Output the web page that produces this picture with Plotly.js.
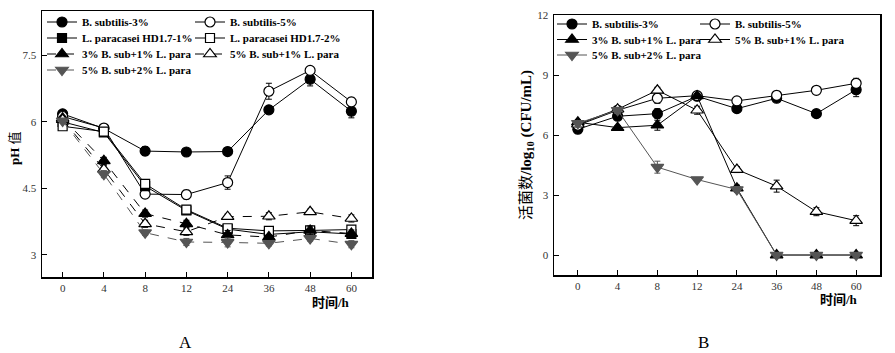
<!DOCTYPE html>
<html><head><meta charset="utf-8">
<script src="https://cdn.plot.ly/plotly-3.0.1.min.js"></script>
<style>html,body{margin:0;padding:0;background:#fff;}#chart{width:895px;height:353px;}</style>
</head><body><div id="chart"></div>
<script>
// ---- data ----
const times = ['0','4','8','12','24','36','48','60'];

// Chart A: pH
const phBs3 = [6.18, 5.85, 5.34, 5.32, 5.33, 6.27, 6.96, 6.24];
const phBs3Err = [0.05, 0.05, 0.1, 0.04, 0.08, 0.08, 0.15, 0.15];
const phBs5 = [6.12, 5.86, 4.37, 4.36, 4.63, 6.69, 7.16, 6.45];
const phBs5Err = [0.05, 0.05, 0.08, 0.1, 0.15, 0.18, 0.08, 0.1];
const phLp1 = [6.0, 5.76, 4.55, 4.0, 3.58, 3.46, 3.52, 3.47];
const phLp1Err = [0.04, 0.04, 0.06, 0.06, 0.1, 0.05, 0.06, 0.06];
const phLp2 = [5.9, 5.78, 4.6, 4.02, 3.6, 3.54, 3.55, 3.57];
const phLp2Err = [0.05, 0.04, 0.06, 0.08, 0.08, 0.05, 0.05, 0.06];
const phMix31 = [6.08, 5.12, 3.93, 3.70, 3.45, 3.40, 3.55, 3.48];
const phMix31Err = [0.05, 0.08, 0.08, 0.08, 0.1, 0.05, 0.1, 0.08];
const phMix51 = [6.05, 4.93, 3.70, 3.52, 3.86, 3.87, 3.97, 3.82];
const phMix51Err = [0.05, 0.08, 0.08, 0.08, 0.06, 0.08, 0.06, 0.08];
const phMix52 = [6.02, 4.82, 3.50, 3.29, 3.28, 3.26, 3.37, 3.24];
const phMix52Err = [0.05, 0.08, 0.06, 0.08, 0.1, 0.06, 0.06, 0.08];

// Chart B: viable count log10(CFU/mL)
const vcBs3 = [6.3, 6.95, 7.08, 7.95, 7.33, 7.85, 7.08, 8.28];
const vcBs3Err = [0.1, 0.12, 0.25, 0.12, 0.12, 0.15, 0.15, 0.35];
const vcBs5 = [6.5, 7.25, 7.85, 7.98, 7.72, 8.0, 8.25, 8.6];
const vcBs5Err = [0.1, 0.12, 0.25, 0.1, 0.12, 0.2, 0.15, 0.25];
const vcMix31 = [6.65, 6.38, 6.5, 7.97, 3.35, 0, 0, 0];
const vcMix31Err = [0.12, 0.1, 0.25, 0.12, 0.15, 0, 0, 0];
const vcMix51 = [6.55, 7.3, 8.25, 7.25, 4.28, 3.45, 2.17, 1.72];
const vcMix51Err = [0.1, 0.15, 0.15, 0.2, 0.15, 0.3, 0.2, 0.25];
const vcMix52 = [6.6, 7.25, 4.4, 3.78, 3.28, 0, 0, 0];
const vcMix52Err = [0.1, 0.15, 0.3, 0.1, 0.15, 0, 0, 0];

const nameBs3 = 'B. subtilis-3%';
const nameBs5 = 'B. subtilis-5%';
const nameLp1 = 'L. paracasei HD1.7-1%';
const nameLp2 = 'L. paracasei HD1.7-2%';
const nameMix31 = '3% B. sub+1% L. para';
const nameMix51 = '5% B. sub+1% L. para';
const nameMix52 = '5% B. sub+2% L. para';

// ---- styling helpers ----
const BLACK = '#000', GRAY = '#555';
function tr(y, err, name, sym, fill, lineColor, dash, xa, ya, leg) {
  return {
    type: 'scatter', mode: 'lines+markers', x: times, y: y, name: name,
    xaxis: xa, yaxis: ya, legend: leg,
    line: {color: lineColor, width: 1, dash: dash},
    marker: {symbol: sym, size: sym.indexOf('triangle') === 0 ? 11 : (sym === 'square' ? 9 : 10),
             color: fill, line: {color: lineColor, width: 1.2}},
    error_y: {type: 'data', array: err, visible: true, color: lineColor, thickness: 1, width: 3},
    cliponaxis: false
  };
}

const data = [
  tr(phBs3, phBs3Err, nameBs3, 'circle', BLACK, BLACK, 'solid', 'x', 'y', 'legend'),
  tr(phBs5, phBs5Err, nameBs5, 'circle', '#fff', BLACK, 'solid', 'x', 'y', 'legend2'),
  tr(phLp1, phLp1Err, nameLp1, 'square', BLACK, BLACK, 'solid', 'x', 'y', 'legend3'),
  tr(phLp2, phLp2Err, nameLp2, 'square', '#fff', BLACK, 'solid', 'x', 'y', 'legend4'),
  tr(phMix31, phMix31Err, nameMix31, 'triangle-up', BLACK, BLACK, 'dash', 'x', 'y', 'legend5'),
  tr(phMix51, phMix51Err, nameMix51, 'triangle-up', '#fff', BLACK, 'dash', 'x', 'y', 'legend6'),
  tr(phMix52, phMix52Err, nameMix52, 'triangle-down', GRAY, GRAY, 'dash', 'x', 'y', 'legend7'),

  tr(vcBs3, vcBs3Err, nameBs3, 'circle', BLACK, BLACK, 'solid', 'x2', 'y2', 'legend8'),
  tr(vcBs5, vcBs5Err, nameBs5, 'circle', '#fff', BLACK, 'solid', 'x2', 'y2', 'legend9'),
  tr(vcMix31, vcMix31Err, nameMix31, 'triangle-up', BLACK, BLACK, 'solid', 'x2', 'y2', 'legend10'),
  tr(vcMix51, vcMix51Err, nameMix51, 'triangle-up', '#fff', BLACK, 'solid', 'x2', 'y2', 'legend11'),
  tr(vcMix52, vcMix52Err, nameMix52, 'triangle-down', GRAY, GRAY, 'solid', 'x2', 'y2', 'legend12')
];

const W = 895, H = 353;
const tickFont = {family: 'Liberation Serif, serif', size: 11, color: '#333'};
const axisCommon = {
  showline: true, linecolor: '#000', linewidth: 1.5, mirror: true,
  ticks: 'inside', ticklen: 5, tickwidth: 1, tickcolor: '#000',
  showgrid: false, zeroline: false, tickfont: tickFont, fixedrange: true
};
function legendAt(px, py) {
  return {
    orientation: 'h', x: px / W, y: 1 - py / H, xanchor: 'left', yanchor: 'middle',
    bgcolor: 'rgba(0,0,0,0)', borderwidth: 0,
    itemwidth: 30, traceorder: 'normal',
    font: {family: 'Liberation Serif, serif', size: 11, weight: 'bold', color: '#000'}
  };
}
const cjk = 'Liberation Serif, Noto Sans CJK SC, serif';
const layout = {
  width: W, height: H, margin: {l: 0, r: 0, t: 0, b: 0},
  paper_bgcolor: '#fff', plot_bgcolor: '#fff', showlegend: true,
  xaxis: Object.assign({}, axisCommon, {domain: [42 / W, 372 / W], type: 'category', categoryorder: 'array', categoryarray: times, range: [-0.5, 7.5], anchor: 'y'}),
  yaxis: Object.assign({}, axisCommon, {domain: [(H - 277) / H, (H - 11) / H], range: [2.5, 8.5], tickvals: [3, 4.5, 6, 7.5], ticktext: ['3', '4.5', '6', '7.5'], anchor: 'x', ticklabelstandoff: 2}),
  xaxis2: Object.assign({}, axisCommon, {domain: [554 / W, 880 / W], type: 'category', categoryorder: 'array', categoryarray: times, range: [-0.6, 7.6], anchor: 'y2'}),
  yaxis2: Object.assign({}, axisCommon, {domain: [(H - 275) / H, (H - 15) / H], range: [-1, 12.02], tickvals: [0, 3, 6, 9, 12], anchor: 'x2', ticklabelstandoff: 2}),
  legend: legendAt(42, 22),
  legend2: legendAt(190, 22),
  legend3: legendAt(42, 38),
  legend4: legendAt(190, 38),
  legend5: legendAt(42, 54),
  legend6: legendAt(190, 54),
  legend7: legendAt(42, 70),
  legend8: legendAt(552, 24),
  legend9: legendAt(695, 24),
  legend10: legendAt(552, 39.5),
  legend11: legendAt(695, 39.5),
  legend12: legendAt(552, 55),
  annotations: [
    {text: '<b>pH</b> 值', x: 14 / W, y: 1 - 148 / H, xref: 'paper', yref: 'paper', textangle: -90, showarrow: false, font: {family: cjk, size: 13, color: '#000'}, xanchor: 'center', yanchor: 'middle'},
    {text: '<b>时间/h</b>', x: 352 / W, y: 1 - 302 / H, xref: 'paper', yref: 'paper', showarrow: false, font: {family: cjk, size: 13, color: '#000'}, xanchor: 'right', yanchor: 'middle'},
    {text: '活菌数<b>/log<sub>10</sub> (CFU/mL)</b>', x: 527 / W, y: 1 - 145 / H, xref: 'paper', yref: 'paper', textangle: -90, showarrow: false, font: {family: cjk, size: 15, color: '#000'}, xanchor: 'center', yanchor: 'middle'},
    {text: '<b>时间/h</b>', x: 860 / W, y: 1 - 299 / H, xref: 'paper', yref: 'paper', showarrow: false, font: {family: cjk, size: 13, color: '#000'}, xanchor: 'right', yanchor: 'middle'},
    {text: 'A', x: 185 / W, y: 1 - 342 / H, xref: 'paper', yref: 'paper', showarrow: false, font: {family: 'Liberation Serif, serif', size: 17, color: '#000'}, xanchor: 'center', yanchor: 'middle'},
    {text: 'B', x: 703 / W, y: 1 - 342 / H, xref: 'paper', yref: 'paper', showarrow: false, font: {family: 'Liberation Serif, serif', size: 17, color: '#000'}, xanchor: 'center', yanchor: 'middle'}
  ]
};
Plotly.newPlot('chart', data, layout, {displayModeBar: false, staticPlot: true});
</script>
</body></html>
